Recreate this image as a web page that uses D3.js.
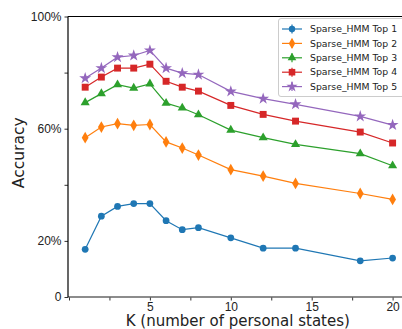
<!DOCTYPE html>
<html>
<head>
<meta charset="utf-8">
<script src="https://cdn.jsdelivr.net/npm/d3@7"></script>
<style>
  body { margin: 0; background: #fff; }
  svg { display: block; font-family: "DejaVu Sans", sans-serif; }
</style>
</head>
<body>
<svg id="chart"></svg>
<script>
const width = 402, height = 329;

const kValues = [1, 2, 3, 4, 5, 6, 7, 8, 10, 12, 14, 18, 20];
const top1 = [17.0, 28.8, 32.3, 33.3, 33.3, 27.2, 24.0, 24.7, 21.1, 17.4, 17.4, 12.9, 13.9];
const top2 = [56.8, 60.6, 61.8, 61.2, 61.5, 55.3, 53.1, 50.6, 45.4, 43.1, 40.5, 36.9, 34.8];
const top3 = [69.3, 72.5, 75.7, 74.5, 76.0, 69.1, 67.4, 65.0, 59.5, 56.8, 54.4, 51.1, 46.8];
const top4 = [74.8, 78.4, 81.6, 81.6, 83.0, 76.9, 74.8, 73.4, 68.3, 65.1, 62.7, 58.8, 54.9];
const top5 = [78.0, 81.6, 85.5, 86.1, 87.9, 81.6, 79.8, 79.3, 73.3, 70.7, 68.7, 64.4, 61.3];
const seriesNames = ["Sparse_HMM Top 1", "Sparse_HMM Top 2", "Sparse_HMM Top 3", "Sparse_HMM Top 4", "Sparse_HMM Top 5"];
const yTicks = [0, 20, 40, 60, 80, 100];
const yTickLabels = ["0", "20%", "", "60%", "", "100%"];
const xTicks = [0, 2.5, 5, 7.5, 10, 12.5, 15, 17.5, 20];
const xTickLabels = ["", "", "5", "", "10", "", "15", "", "20"];

const colors = ["#1f77b4", "#ff7f0e", "#2ca02c", "#d62728", "#9467bd"];
const shapes = [d3.symbolCircle, d3.symbolDiamond, d3.symbolTriangle, d3.symbolSquare, d3.symbolStar];
const sizes = [36, 40, 36, 48, 44];

const series = [top1, top2, top3, top4, top5].map((vals, i) => ({
  name: seriesNames[i],
  values: vals.map((v, j) => ({k: kValues[j], v}))
}));

const svg = d3.select("#chart").attr("width", width).attr("height", height);

const x = d3.scaleLinear().domain([0, 20]).range([69, 392.6]);
const y = d3.scaleLinear().domain([0, 100]).range([297, 16.5]);

// x axis (bottom)
const xAxis = svg.append("g")
    .attr("transform", `translate(0,${y(0)})`)
    .call(d3.axisBottom(x).tickValues(xTicks).tickFormat((d, i) => xTickLabels[i]).tickSize(3.5).tickSizeOuter(0));
xAxis.select(".domain").remove();
xAxis.selectAll(".tick line").attr("stroke", "#333");
xAxis.selectAll("text").attr("font-size", 12).attr("fill", "#222").attr("y", 5).attr("dy", "0.71em");
svg.append("line")
    .attr("x1", 68).attr("x2", width)
    .attr("y1", y(0)).attr("y2", y(0))
    .attr("stroke", "#666").attr("stroke-width", 1.5);

// y axis (left)
const yAxis = svg.append("g")
    .attr("transform", "translate(68,0)")
    .call(d3.axisLeft(y).tickValues(yTicks).tickFormat((d, i) => yTickLabels[i]).tickSize(3.5).tickSizeOuter(0));
yAxis.select(".domain").remove();
yAxis.selectAll(".tick line").attr("stroke", "#333");
yAxis.selectAll("text").attr("font-size", 12).attr("fill", "#222");

svg.append("line")
    .attr("x1", 68).attr("x2", 68)
    .attr("y1", y(100)).attr("y2", y(0))
    .attr("stroke", "#000").attr("stroke-width", 1.2);
svg.append("line")
    .attr("x1", 68).attr("x2", width)
    .attr("y1", y(100)).attr("y2", y(100))
    .attr("stroke", "#000").attr("stroke-width", 1.2);

// lines + markers
const line = d3.line().x(d => x(d.k)).y(d => y(d.v));

series.forEach((s, i) => {
  svg.append("path")
      .datum(s.values)
      .attr("fill", "none")
      .attr("stroke", colors[i])
      .attr("stroke-width", 1.2)
      .attr("d", line);
  svg.selectAll(null)
      .data(s.values)
      .enter().append("path")
      .attr("transform", d => `translate(${x(d.k)},${y(d.v)})`)
      .attr("d", d3.symbol(shapes[i], sizes[i]))
      .attr("fill", colors[i]);
});

// legend
const legend = svg.append("g");
legend.append("rect")
    .attr("x", 278.5).attr("y", 18.5)
    .attr("width", 130).attr("height", 78)
    .attr("rx", 2.5)
    .attr("fill", "#fff").attr("fill-opacity", 0.85)
    .attr("stroke", "#ccc");
series.forEach((s, i) => {
  const ly = 29 + i * 14.4;
  legend.append("line")
      .attr("x1", 282).attr("x2", 302).attr("y1", ly).attr("y2", ly)
      .attr("stroke", colors[i]).attr("stroke-width", 1.2);
  legend.append("line")
      .attr("x1", 292).attr("x2", 292).attr("y1", ly - 4.5).attr("y2", ly + 4.5)
      .attr("stroke", colors[i]).attr("stroke-width", 1.2);
  legend.append("path")
      .attr("transform", `translate(292,${ly})`)
      .attr("d", d3.symbol(shapes[i], sizes[i] * 0.9))
      .attr("fill", colors[i]);
  legend.append("text")
      .attr("x", 310).attr("y", ly)
      .attr("dy", "0.35em")
      .attr("font-size", 9.3)
      .attr("fill", "#222")
      .text(s.name);
});

// axis titles
svg.append("text")
    .attr("x", (x(0) + 392.6) / 2 + 7).attr("y", 326)
    .attr("text-anchor", "middle")
    .attr("font-size", 15)
    .attr("fill", "#222")
    .text("K (number of personal states)");
svg.append("text")
    .attr("transform", `translate(24,${(y(0) + y(100)) / 2 - 4}) rotate(-90)`)
    .attr("text-anchor", "middle")
    .attr("font-size", 15.5)
    .attr("fill", "#222")
    .text("Accuracy");
</script>
</body>
</html>
